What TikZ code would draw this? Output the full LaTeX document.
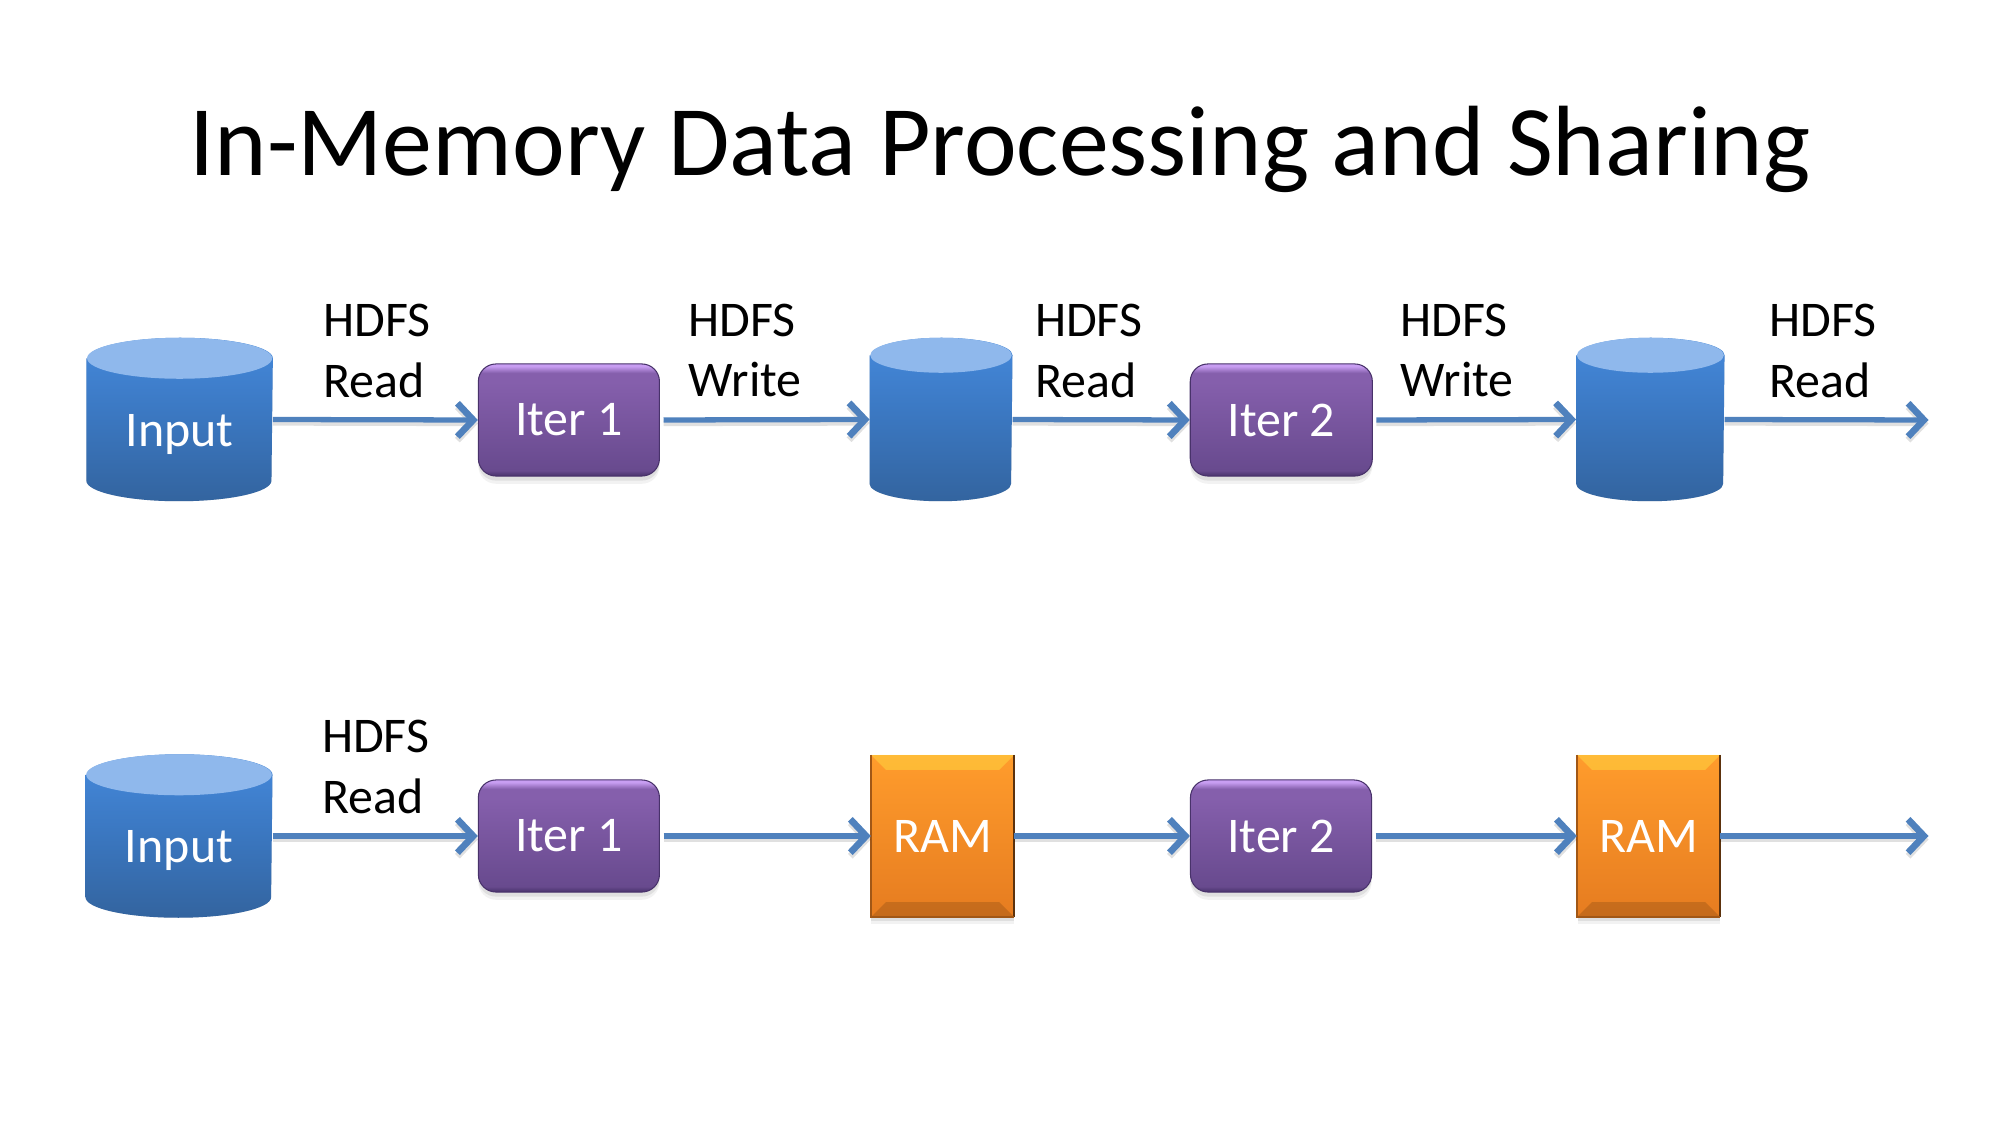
\documentclass[tikz,border=0pt]{standalone}
\usepackage{fontspec}
\setmainfont{Carlito}
\usetikzlibrary{arrows.meta,shadows}
\definecolor{arrowblue}{HTML}{4F81BD}
\definecolor{captop}{HTML}{8FB8EC}
\definecolor{c0}{HTML}{33649F}\definecolor{c1}{HTML}{3B78C2}\definecolor{c2}{HTML}{4284D4}
\pgfdeclareverticalshading{cylface}{100bp}{
  color(0bp)=(c0); color(25bp)=(c0);
  color(52bp)=(c1); color(68bp)=(c2); color(100bp)=(c2)}
\definecolor{p0}{RGB}{72,50,106}\definecolor{p1}{RGB}{104,74,142}\definecolor{p2}{RGB}{133,95,172}\definecolor{p3}{RGB}{200,158,242}
\pgfdeclareverticalshading{iterface}{100bp}{
  color(0bp)=(p0); color(25bp)=(p0); color(27.5bp)=(p1); color(67bp)=(p2); color(71bp)=(p2); color(74bp)=(p3); color(100bp)=(p3)}
\definecolor{o0}{RGB}{230,124,32}\definecolor{o1}{RGB}{255,156,44}
\pgfdeclareverticalshading{ramface}{100bp}{
  color(0bp)=(o0); color(25bp)=(o0); color(75bp)=(o1); color(100bp)=(o1)}
\tikzset{
  softshadow/.style={
    general shadow={fill=black,opacity=.05,shadow xshift=0pt,shadow yshift=-2.2pt},
    general shadow={fill=black,opacity=.08,shadow xshift=0pt,shadow yshift=-1.3pt}},
  iterbox/.style={rectangle,rounded corners=5pt,minimum height=1.12cm,draw=p0,line width=.3pt,
    inner sep=0pt,shading=iterface,softshadow,text=white,font=\fontsize{14.2}{17}\selectfont},
  rambox/.style={rectangle,minimum height=1.61cm,inner sep=0pt,shading=ramface,softshadow,
    text=white,font=\fontsize{14.2}{17}\selectfont},
  cylbox/.style={rectangle,minimum height=1.62cm,inner sep=0pt},
  whitelabel/.style={inner sep=0pt,text=white,font=\fontsize{14.2}{17}\selectfont},
  hdfs/.style={anchor=west,inner sep=0pt,text=black,font=\fontsize{14.2}{17}\selectfont},
  conn/.style={draw=arrowblue,line width=1.5pt,-{Straight Barb[length=4.5pt,width=9.5pt,line width=1.9pt]},
    preaction={draw=black,draw opacity=.12,line width=1.5pt,transform canvas={yshift=-1pt}}},
}
\newcommand{\cylnode}[6]{% name, x, y, width, half width, ry
  \node[cylbox,minimum width=#4cm] (#1) at (#2,#3) {};
  \foreach \sh/\op in {2.2pt/.05,1.3pt/.08}{
    \fill[black,opacity=\op,yshift=-\sh]
      ([yshift=-#6mm]#1.north west) -- ([yshift=#6mm]#1.south west)
      arc[start angle=180,end angle=360,x radius=#5cm,y radius=#6mm]
      -- ([yshift=-#6mm]#1.north east) -- cycle;}
  \shade[shading=cylface]
      ([yshift=-#6mm]#1.north west) -- ([yshift=#6mm]#1.south west)
      arc[start angle=180,end angle=360,x radius=#5cm,y radius=#6mm]
      -- ([yshift=-#6mm]#1.north east)
      arc[start angle=0,end angle=180,x radius=#5cm,y radius=#6mm] -- cycle;
  \fill[captop] ([yshift=-#6mm]#1.north) ellipse[x radius=#5cm,y radius=#6mm];
}
\newcommand{\rambevel}[1]{%
  \fill[yellow!70!white,opacity=.35] (#1.north west) -- (#1.north east) -- ([xshift=-1.5mm,yshift=-1.5mm]#1.north east) -- ([xshift=1.5mm,yshift=-1.5mm]#1.north west) -- cycle;
  \fill[black,opacity=.14] (#1.south west) -- (#1.south east) -- ([xshift=-1.5mm,yshift=1.5mm]#1.south east) -- ([xshift=1.5mm,yshift=1.5mm]#1.south west) -- cycle;
  \draw[black!60!o0,line width=.6pt] (#1.north east) -- (#1.south east);
  \draw[black!30!o0,line width=.5pt] (#1.north west) -- (#1.south west) -- (#1.south east);
}
\begin{document}
\begin{tikzpicture}[x=0.01cm,y=-0.01cm]
\useasboundingbox (0,0) rectangle (2000,1125);
\node[inner sep=0pt,text=black,font=\fontsize{28.4}{34}\selectfont] (title) at (1000,149) {In-Memory Data Processing and Sharing};

% top row
\cylnode{ca}{179.6}{419.5}{1.85}{.925}{2.05}
\node[whitelabel] (cat) at (179.6,435) {Input};
\node[iterbox,minimum width=1.81cm] (ia) at (568.9,420) {Iter 1};
\cylnode{cb}{941}{419.5}{1.415}{.7075}{1.75}
\node[iterbox,minimum width=1.82cm] (ib) at (1281.3,420) {Iter 2};
\cylnode{cc}{1650.3}{419.5}{1.47}{.735}{1.75}
\coordinate (ea) at (1928.5,420);

\node[hdfs] (t1) at (322.7,320) {HDFS};
\node[hdfs] (t2) at (322.7,380) {Read};
\node[hdfs] (t3) at (688,320) {HDFS};
\node[hdfs] (t4) at (688,380) {Write};
\node[hdfs] (t5) at (1034.4,320) {HDFS};
\node[hdfs] (t6) at (1034.4,380) {Read};
\node[hdfs] (t7) at (1400,320) {HDFS};
\node[hdfs] (t8) at (1400,380) {Write};
\node[hdfs] (t9) at (1769,320) {HDFS};
\node[hdfs] (t10) at (1769,380) {Read};

% bottom row
\cylnode{cd}{179}{836}{1.855}{.9275}{2.05}
\node[whitelabel] (cdt) at (179,851) {Input};
\node[iterbox,minimum width=1.81cm] (ic) at (568.9,836) {Iter 1};
\node[rambox,minimum width=1.42cm] (ra) at (942.5,836) {RAM};
\rambevel{ra}
\node[iterbox,minimum width=1.81cm] (id) at (1281,836) {Iter 2};
\node[rambox,minimum width=1.42cm] (rb) at (1648.6,836) {RAM};
\rambevel{rb}
\coordinate (eb) at (1928.5,836);

\node[hdfs] (b1) at (321.4,736) {HDFS};
\node[hdfs] (b2) at (321.4,796) {Read};

% connectors
\draw[conn] (ca.east) -- (ia.west);
\draw[conn,shorten <=1pt] (ia.east) -- (cb.west);
\draw[conn] (cb.east) -- (ib.west);
\draw[conn,shorten <=1pt] (ib.east) -- (cc.west);
\draw[conn] (cc.east) -- (ea);
\draw[conn] (cd.east) -- (ic.west);
\draw[conn,shorten <=1pt] (ic.east) -- (ra.west);
\draw[conn] (ra.east) -- (id.west);
\draw[conn,shorten <=1pt] (id.east) -- (rb.west);
\draw[conn] (rb.east) -- (eb);
\end{tikzpicture}
\end{document}
